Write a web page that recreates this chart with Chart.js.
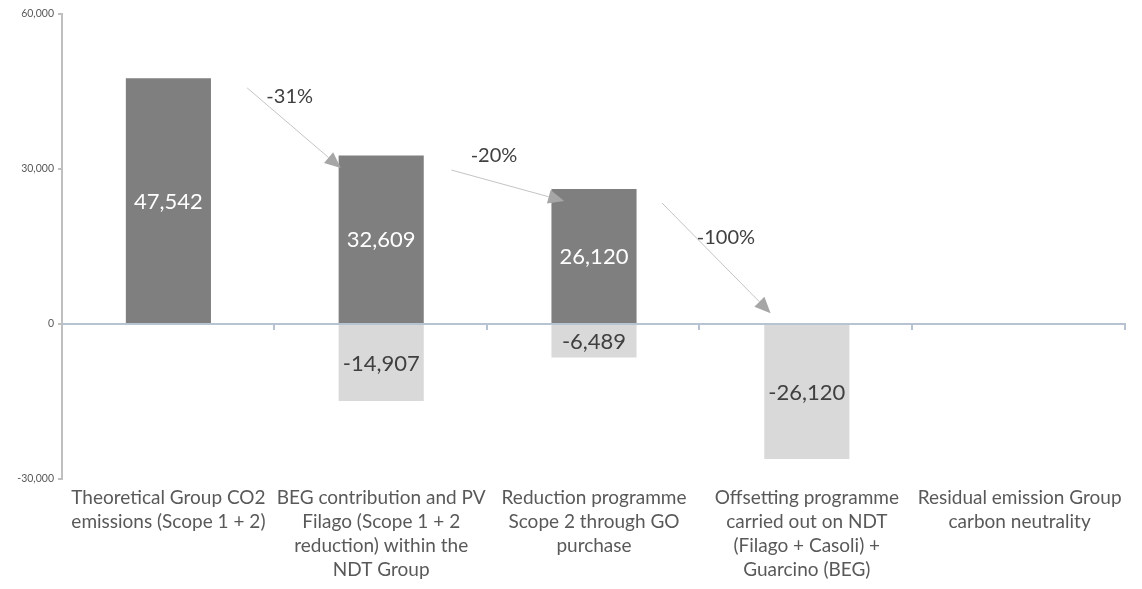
<!DOCTYPE html>
<html>
<head>
<meta charset="utf-8">
<script src="https://cdn.jsdelivr.net/npm/chart.js@4/dist/chart.umd.min.js"></script>
<style>
  html, body { margin: 0; padding: 0; background: #fff; }
  #wrap { width: 1142px; height: 589px; position: relative; }
</style>
</head>
<body>
<div id="wrap"><canvas id="chart"></canvas></div>
<script>
// waterfall: emissions vs reductions (tCO2)
const categories = [
  ['Theoretical Group CO2', 'emissions (Scope 1 + 2)'],
  ['BEG contribution and PV', 'Filago (Scope 1 + 2', 'reduction) within the', 'NDT Group'],
  ['Reduction programme', 'Scope 2 through GO', 'purchase'],
  ['Offsetting programme', 'carried out on NDT', '(Filago + Casoli) +', 'Guarcino (BEG)'],
  ['Residual emission Group', 'carbon neutrality'],
];
const emissions = [47542, 32609, 26120, 0, 0];
const reductions = [0, -14907, -6489, -26120, 0];
const yTicks = [-30000, 0, 30000, 60000];
const pctLabels = ['-31%', '-20%', '-100%'];

// arrows between bars, in data units (category index, value)
const arrows = [
  { from: [0.37, 45700], to: [0.81, 30200], text: [0.57, 44100] },
  { from: [1.33, 29800], to: [1.86, 23800], text: [1.53, 32700] },
  { from: [2.32, 23400], to: [2.83, 2100], text: [2.62, 16800] },
];

const FONT = 'Lato, "Open Sans", sans-serif';
const fmtNum = (v) => v.toLocaleString('en-US');

const valueLabels = {
  id: 'valueLabels',
  afterDatasetsDraw(chart) {
    const ctx = chart.ctx;
    ctx.save();
    ctx.font = `22px ${FONT}`;
    ctx.textAlign = 'center';
    ctx.textBaseline = 'middle';
    chart.data.datasets.forEach((ds, di) => {
      chart.getDatasetMeta(di).data.forEach((bar, i) => {
        const v = ds.data[i];
        if (!v) return;
        ctx.fillStyle = di === 0 ? '#ffffff' : '#404040';
        ctx.fillText(fmtNum(v), bar.x, (bar.y + bar.base) / 2 + 1);
      });
    });
    ctx.restore();
  },
};

const zeroAxis = {
  id: 'zeroAxis',
  afterDatasetsDraw(chart) {
    const { ctx, chartArea, scales } = chart;
    const y0 = scales.y.getPixelForValue(0);
    ctx.save();
    ctx.strokeStyle = '#b7c3d3';
    ctx.lineWidth = 2;
    ctx.beginPath();
    ctx.moveTo(chartArea.left, y0);
    ctx.lineTo(chartArea.right, y0);
    const step = (chartArea.right - chartArea.left) / categories.length;
    for (let i = 1; i <= categories.length; i++) {
      const x = Math.round(chartArea.left + step * i) - 1;
      ctx.moveTo(x, y0);
      ctx.lineTo(x, y0 + 6);
    }
    ctx.stroke();
    ctx.restore();
  },
};

const arrowNotes = {
  id: 'arrowNotes',
  afterDatasetsDraw(chart) {
    const { ctx, scales } = chart;
    const px = (p) => [scales.x.getPixelForValue(p[0]), scales.y.getPixelForValue(p[1])];
    ctx.save();
    arrows.forEach((a, i) => {
      const [x1, y1] = px(a.from);
      const [x2, y2] = px(a.to);
      const ang = Math.atan2(y2 - y1, x2 - x1);
      const headLen = 16, headW = 7;
      const bx = x2 - headLen * Math.cos(ang), by = y2 - headLen * Math.sin(ang);
      ctx.strokeStyle = '#c4c4c4';
      ctx.lineWidth = 1;
      ctx.beginPath();
      ctx.moveTo(x1, y1);
      ctx.lineTo(bx, by);
      ctx.stroke();
      ctx.fillStyle = '#a6a6a6';
      ctx.beginPath();
      ctx.moveTo(x2, y2);
      ctx.lineTo(bx + headW * Math.sin(ang), by - headW * Math.cos(ang));
      ctx.lineTo(bx - headW * Math.sin(ang), by + headW * Math.cos(ang));
      ctx.closePath();
      ctx.fill();
      const [tx, ty] = px(a.text);
      ctx.font = `20px ${FONT}`;
      ctx.fillStyle = '#404040';
      ctx.textAlign = 'center';
      ctx.textBaseline = 'middle';
      ctx.fillText(pctLabels[i], tx, ty);
    });
    ctx.restore();
  },
};

new Chart(document.getElementById('chart'), {
  type: 'bar',
  data: {
    labels: categories,
    datasets: [
      { label: 'Emissions', data: emissions, backgroundColor: '#7f7f7f' },
      { label: 'Reductions', data: reductions, backgroundColor: '#d9d9d9' },
    ],
  },
  options: {
    responsive: true,
    maintainAspectRatio: false,
    animation: false,
    layout: { padding: { top: 14, right: 16, left: 0, bottom: 0 } },
    plugins: { legend: { display: false }, tooltip: { enabled: false } },
    datasets: { bar: { categoryPercentage: 1, barPercentage: 0.4 } },
    scales: {
      x: {
        stacked: true,
        grid: { display: false },
        border: { display: false },
        afterFit: (s) => { s.height = 110; },
        ticks: {
          color: '#595959',
          font: { family: FONT, size: 19, lineHeight: 1.26 },
          padding: -1,
          maxRotation: 0,
          autoSkip: false,
        },
      },
      y: {
        stacked: true,
        min: -30000,
        max: 60000,
        afterFit: (s) => { s.width = 62; },
        afterBuildTicks: (s) => { s.ticks = yTicks.map((v) => ({ value: v })); },
        grid: { drawOnChartArea: false, color: '#bfbfbf', tickLength: 4, lineWidth: 2 },
        border: { display: true, color: '#bfbfbf', width: 2 },
        ticks: {
          color: '#595959',
          font: { family: FONT, size: 10.5 },
          padding: 4,
          callback: (v) => fmtNum(v),
        },
      },
    },
  },
  plugins: [valueLabels, zeroAxis, arrowNotes],
});
</script>
</body>
</html>
